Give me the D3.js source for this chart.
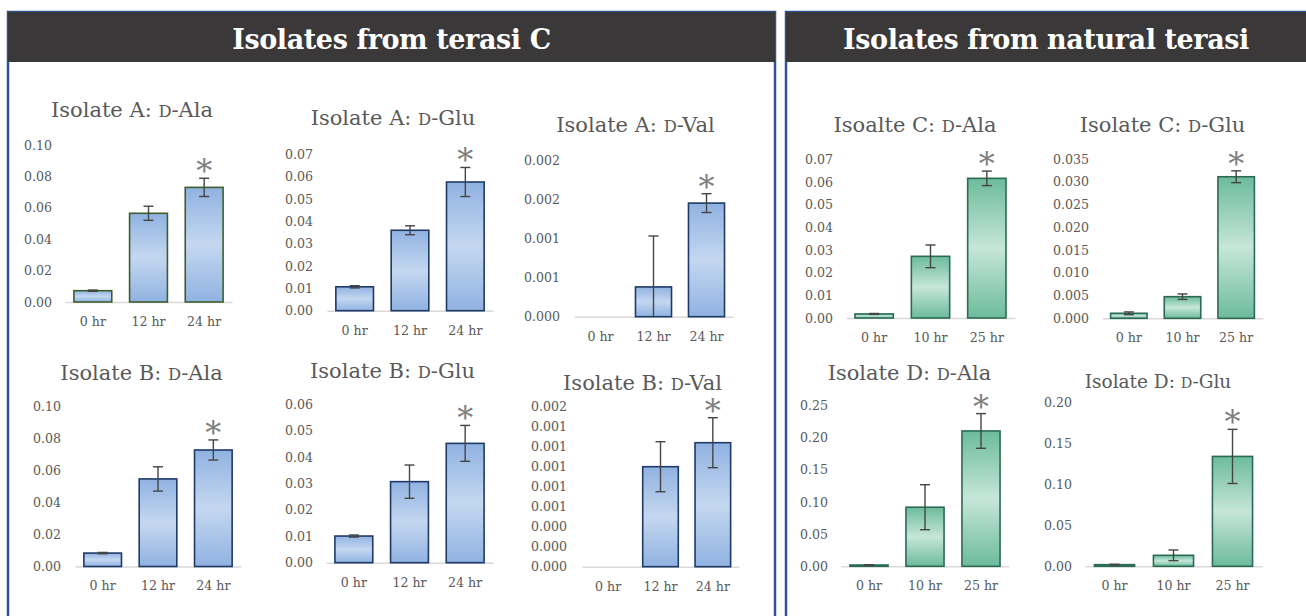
<!DOCTYPE html>
<html>
<head>
<meta charset="utf-8">
<script src="https://cdn.jsdelivr.net/npm/d3@7"></script>
<style>
  body { margin: 0; background: #fff; }
  svg { display: block; font-family: 'DejaVu Serif', serif; }
</style>
</head>
<body>
<div id="graf"></div>
<script>
// Categorias (tiempos)
horasC = ['0 hr', '12 hr', '24 hr']
horasN = ['0 hr', '10 hr', '25 hr']
marcas = ['', '', '*']

// Isolates from terasi C
aAla = [0.0072, 0.0565, 0.0730]
aAlaErr = [0.0004, 0.0045, 0.0058]
aGlu = [0.0107, 0.0360, 0.0576]
aGluErr = [0.0005, 0.0020, 0.0065]
aVal = [0, 0.00038, 0.00145]
aValErr = [0, 0.00065, 0.00012]
bAla = [0.0084, 0.0548, 0.0729]
bAlaErr = [0.0004, 0.0076, 0.0063]
bGlu = [0.0101, 0.0307, 0.0452]
bGluErr = [0.0004, 0.0063, 0.0068]
bVal = [0, 0.0010, 0.00124]
bValErr = [0, 0.00025, 0.00025]

// Isolates from natural terasi
cAla = [0.0018, 0.0272, 0.0616]
cAlaErr = [0.0002, 0.0050, 0.0032]
cGlu = [0.0011, 0.00475, 0.0311]
cGluErr = [0.0003, 0.0006, 0.0013]
dAla = [0.002, 0.092, 0.2107]
dAlaErr = [0.0005, 0.035, 0.027]
dGlu = [0.002, 0.0134, 0.134]
dGluErr = [0.0005, 0.0065, 0.033]

// Ticks del eje Y y sus etiquetas
ticksAla = [0, 0.02, 0.04, 0.06, 0.08, 0.10]
labelsAla = ['0.00', '0.02', '0.04', '0.06', '0.08', '0.10']
ticks07 = [0, 0.01, 0.02, 0.03, 0.04, 0.05, 0.06, 0.07]
labels07 = ['0.00', '0.01', '0.02', '0.03', '0.04', '0.05', '0.06', '0.07']
ticks06 = [0, 0.01, 0.02, 0.03, 0.04, 0.05, 0.06]
labels06 = ['0.00', '0.01', '0.02', '0.03', '0.04', '0.05', '0.06']
ticksAVal = [0, 0.0005, 0.001, 0.0015, 0.002]
labelsAVal = ['0.000', '0.001', '0.001', '0.002', '0.002']
ticksBVal = [0, 0.0002, 0.0004, 0.0006, 0.0008, 0.001, 0.0012, 0.0014, 0.0016]
labelsBVal = ['0.000', '0.000', '0.000', '0.001', '0.001', '0.001', '0.001', '0.001', '0.002']
ticksCGlu = [0, 0.005, 0.01, 0.015, 0.02, 0.025, 0.03, 0.035]
labelsCGlu = ['0.000', '0.005', '0.010', '0.015', '0.020', '0.025', '0.030', '0.035']
ticksDAla = [0, 0.05, 0.10, 0.15, 0.20, 0.25]
labelsDAla = ['0.00', '0.05', '0.10', '0.15', '0.20', '0.25']
ticksDGlu = [0, 0.05, 0.10, 0.15, 0.20]
labelsDGlu = ['0.00', '0.05', '0.10', '0.15', '0.20']

titulos = ['Isolates from terasi C', 'Isolates from natural terasi']

ancho_total = 1306
alto_total = 616

svg = d3.select('#graf').append('svg')
  .attr('width', ancho_total)
  .attr('height', alto_total)

// Degradados de las barras
defs = svg.append('defs')
function degradado(id, borde, centro) {
  let lg = defs.append('linearGradient').attr('id', id)
    .attr('x1', 0).attr('y1', 0).attr('x2', 0).attr('y2', 1)
  lg.append('stop').attr('offset', '0%').attr('stop-color', borde)
  lg.append('stop').attr('offset', '50%').attr('stop-color', centro)
  lg.append('stop').attr('offset', '100%').attr('stop-color', borde)
}
degradado('azul', '#90b2e1', '#c4d7f0')
degradado('verde', '#6cbb9c', '#c6e6d9')

// Marcos y encabezados
marcos = [
  { x: 8, w: 767, cx: 391.5, titulo: titulos[0] },
  { x: 786, w: 532, cx: 1046, titulo: titulos[1] }
]
marcos.forEach(m => {
  svg.append('rect')
    .attr('x', m.x).attr('y', 12)
    .attr('width', m.w).attr('height', 640)
    .attr('fill', 'none')
    .attr('stroke', '#2f5496')
    .attr('stroke-width', 2.5)
  svg.append('rect')
    .attr('x', m.x).attr('y', 12)
    .attr('width', m.w).attr('height', 50)
    .attr('fill', '#3a3838')
  svg.append('text')
    .attr('x', m.cx)
    .attr('y', 48.5)
    .attr('text-anchor', 'middle')
    .attr('fill', '#ffffff')
    .attr('font-weight', 'bold')
    .attr('font-size', 27)
    .attr('letter-spacing', -0.4)
    .text(m.titulo)
})

paneles = [
  { titulo: 'Isolate A: D-Ala', cats: horasC, vals: aAla, errs: aAlaErr, ticks: ticksAla, labels: labelsAla,
    fill: 'azul', stroke: '#3d5e2c', x0: 65, x1: 232, yBase: 302, yTop: 145, lx: 52, tx: 132, ty: 117, ts: 21 },
  { titulo: 'Isolate A: D-Glu', cats: horasC, vals: aGlu, errs: aGluErr, ticks: ticks07, labels: labels07,
    fill: 'azul', stroke: '#1f3a66', x0: 327, x1: 493, yBase: 310.7, yTop: 154.3, lx: 313, tx: 393, ty: 125, ts: 21 },
  { titulo: 'Isolate A: D-Val', cats: horasC, vals: aVal, errs: aValErr, ticks: ticksAVal, labels: labelsAVal,
    fill: 'azul', stroke: '#1f3a66', x0: 574, x1: 733, yBase: 316.7, yTop: 160, lx: 560, tx: 635.5, ty: 132, ts: 21 },
  { titulo: 'Isolate B: D-Ala', cats: horasC, vals: bAla, errs: bAlaErr, ticks: ticksAla, labels: labelsAla,
    fill: 'azul', stroke: '#1f3a66', x0: 75, x1: 241, yBase: 566.5, yTop: 406.7, lx: 61, tx: 141.5, ty: 380, ts: 21 },
  { titulo: 'Isolate B: D-Glu', cats: horasC, vals: bGlu, errs: bGluErr, ticks: ticks06, labels: labels06,
    fill: 'azul', stroke: '#1f3a66', x0: 326, x1: 493, yBase: 562.7, yTop: 404.3, lx: 313, tx: 392.5, ty: 378, ts: 21 },
  { titulo: 'Isolate B: D-Val', cats: horasC, vals: bVal, errs: bValErr, ticks: ticksBVal, labels: labelsBVal,
    fill: 'azul', stroke: '#1f3a66', x0: 582, x1: 739, yBase: 566.7, yTop: 406.7, lx: 567, tx: 642.5, ty: 390, ts: 21 },
  { titulo: 'Isoalte C: D-Ala', cats: horasN, vals: cAla, errs: cAlaErr, ticks: ticks07, labels: labels07,
    fill: 'verde', stroke: '#2b6b55', x0: 846, x1: 1015, yBase: 318, yTop: 159.3, lx: 833, tx: 915, ty: 131.7, ts: 21 },
  { titulo: 'Isolate C: D-Glu', cats: horasN, vals: cGlu, errs: cGluErr, ticks: ticksCGlu, labels: labelsCGlu,
    fill: 'verde', stroke: '#2b6b55', x0: 1102, x1: 1263, yBase: 318.3, yTop: 159, lx: 1089, tx: 1162.5, ty: 131.7, ts: 21 },
  { titulo: 'Isolate D: D-Ala', cats: horasN, vals: dAla, errs: dAlaErr, ticks: ticksDAla, labels: labelsDAla,
    fill: 'verde', stroke: '#2b6b55', x0: 841, x1: 1009, yBase: 566.3, yTop: 405.7, lx: 828, tx: 909.5, ty: 380, ts: 21 },
  { titulo: 'Isolate D: D-Glu', cats: horasN, vals: dGlu, errs: dGluErr, ticks: ticksDGlu, labels: labelsDGlu,
    fill: 'verde', stroke: '#2b6b55', x0: 1085, x1: 1262, yBase: 566.3, yTop: 402.3, lx: 1072, tx: 1158, ty: 388, ts: 18.5 }
]

function panel(p) {
  let g = svg.append('g')

  // Escaladores
  let x = d3.scaleBand().domain(p.cats).range([p.x0, p.x1]).paddingInner(0.32).paddingOuter(0.16)
  let y = d3.scaleLinear().domain([0, p.ticks[p.ticks.length - 1]]).range([p.yBase, p.yTop])

  // Titulo con la "D" en versalitas
  let partes = p.titulo.split(': ')
  let t = g.append('text')
    .attr('x', p.tx).attr('y', p.ty)
    .attr('text-anchor', 'middle')
    .attr('font-size', p.ts)
    .attr('fill', '#595959')
  t.append('tspan').text(partes[0] + ': ')
  t.append('tspan').attr('font-size', p.ts * 0.78).text(partes[1][0])
  t.append('tspan').text(partes[1].slice(1))

  // Ejes
  let yAxis = g.append('g')
    .attr('transform', `translate(${p.lx}, 0)`)
    .call(d3.axisLeft(y).tickValues(p.ticks).tickFormat((d, i) => p.labels[i]).tickSize(0).tickPadding(0))
  yAxis.select('.domain').remove()

  let xAxis = g.append('g')
    .attr('transform', `translate(0, ${p.yBase})`)
    .call(d3.axisBottom(x).tickSize(0).tickSizeOuter(0).tickPadding(15))
  xAxis.select('.domain').attr('stroke', '#d9d9d9').attr('stroke-width', 1.5)

  g.selectAll('.tick text')
    .attr('font-family', 'DejaVu Serif')
    .attr('font-size', 12.6)
    .attr('fill', '#595959')

  let datos = p.cats.map((c, i) => ({ cat: c, v: p.vals[i], e: p.errs[i], m: marcas[i] }))

  // Barras
  g.selectAll('rect.barra')
    .data(datos.filter(d => d.v > 0))
    .enter().append('rect')
    .attr('class', 'barra')
    .attr('x', d => x(d.cat))
    .attr('y', d => y(d.v))
    .attr('width', x.bandwidth())
    .attr('height', d => p.yBase - y(d.v))
    .attr('fill', `url(#${p.fill})`)
    .attr('stroke', p.stroke)
    .attr('stroke-width', 1.6)

  // Barras de error
  let cx = d => x(d.cat) + x.bandwidth() / 2
  let conErr = datos.filter(d => d.e > 0)
  g.selectAll('line.err')
    .data(conErr)
    .enter().append('line')
    .attr('x1', cx).attr('x2', cx)
    .attr('y1', d => y(d.v + d.e))
    .attr('y2', d => y(Math.max(0, d.v - d.e)))
    .attr('stroke', '#454545').attr('stroke-width', 1.4)
  g.selectAll('line.capSup')
    .data(conErr)
    .enter().append('line')
    .attr('x1', d => cx(d) - 5).attr('x2', d => cx(d) + 5)
    .attr('y1', d => y(d.v + d.e)).attr('y2', d => y(d.v + d.e))
    .attr('stroke', '#454545').attr('stroke-width', 1.4)
  g.selectAll('line.capInf')
    .data(conErr.filter(d => d.v - d.e >= 0))
    .enter().append('line')
    .attr('x1', d => cx(d) - 5).attr('x2', d => cx(d) + 5)
    .attr('y1', d => y(d.v - d.e)).attr('y2', d => y(d.v - d.e))
    .attr('stroke', '#454545').attr('stroke-width', 1.4)

  // Asteriscos de significancia
  g.selectAll('text.ast')
    .data(datos.filter(d => d.m))
    .enter().append('text')
    .attr('x', cx)
    .attr('y', d => y(d.v + d.e) + 4)
    .attr('text-anchor', 'middle')
    .attr('font-size', 32)
    .attr('fill', '#7f7f7f')
    .text(d => d.m)
}

paneles.forEach(panel)
</script>
</body>
</html>
